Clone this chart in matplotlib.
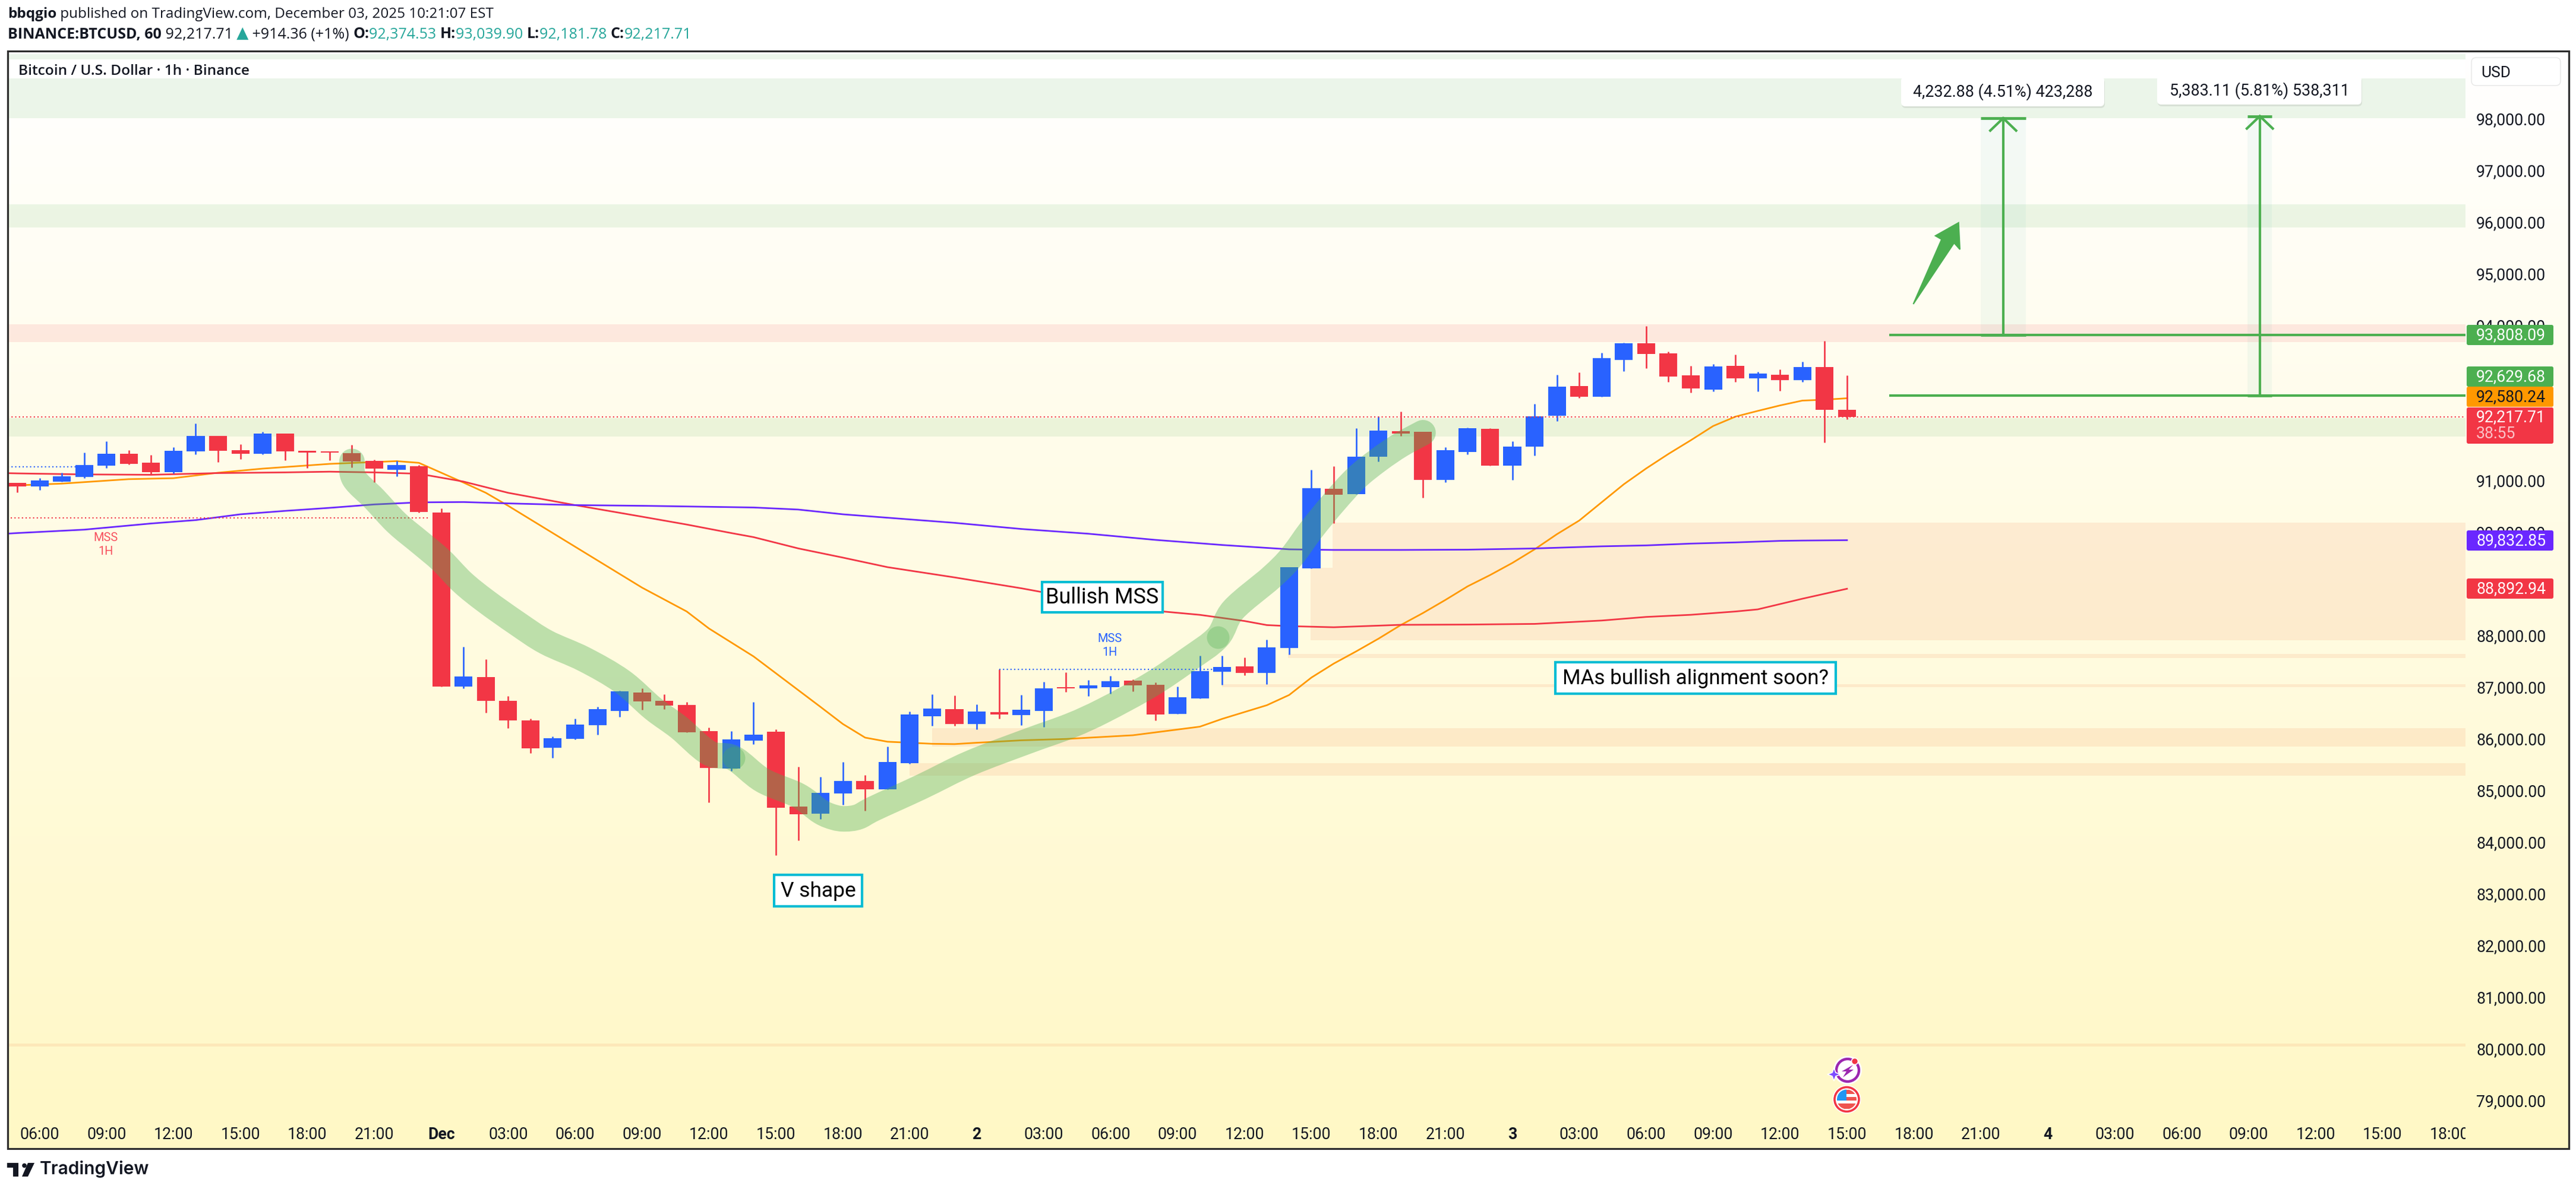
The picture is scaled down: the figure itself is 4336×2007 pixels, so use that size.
import numpy as np
import matplotlib
matplotlib.use("Agg")
import matplotlib.pyplot as plt
from matplotlib.patches import Rectangle, FancyBboxPatch, Polygon, Circle, PathPatch
from matplotlib.path import Path
from matplotlib.transforms import Bbox

W, H = 4336, 2008
DPI = 100

opens = [90941,90875,90967,91060,91277,91508,91330,91152,91555,91851,91574,91508,91898,91561,91555,91515,91370,91192,91264,90367,
         87002,87180,86725,86342,85814,85986,86250,86527,86883,86725,86646,86138,85418,85953,86124,84680,84541,84930,85174,85009,
         85517,86421,86560,86276,86507,86448,86527,86989,86962,86989,87114,87035,86468,86771,87286,87391,87266,87750,89286,90828,
         90723,91450,91943,91931,90998,91538,91989,91274,91643,92242,92816,92611,93321,93643,93450,93021,92746,93209,92969,93033,
         92934,93186,92359]
highs = [90941,91033,91139,91528,91746,91574,91482,91627,92096,91851,91687,91931,91898,91561,91555,91680,91390,91370,91291,90446,
         87767,87530,86817,86382,86032,86382,86606,86923,86962,86850,86705,86210,86138,86698,86171,85445,85254,85537,85287,85841,
         86514,86850,86824,86652,87332,86837,87094,87272,87127,87206,87140,87081,87002,87602,87596,87563,87906,89310,91198,91262,
         92001,92230,92324,91931,91632,92013,92001,91749,92470,93033,93080,93461,93655,93977,93485,93209,93244,93426,93092,93139,
         93285,93690,93021]
lows = [90756,90802,90967,91033,91231,91297,91106,91126,91495,91343,91403,91495,91376,91231,91376,91238,90954,91073,90367,87002,
        86962,86494,86197,85709,85623,85979,86065,86415,86553,86560,86111,84759,85366,85887,83736,84020,84436,84713,84594,85009,
        85504,86243,86243,86171,86382,86250,86217,86896,86817,86863,86910,86342,86468,86771,87035,87220,87048,87621,89286,90160,
        90723,91356,91849,90658,90957,91497,91274,90998,91473,92136,92588,92611,93104,93162,92898,92687,92711,92898,92711,92722,
        92898,91726,92171]
closes = [90875,90987,91066,91284,91508,91310,91152,91561,91851,91561,91508,91898,91555,91528,91528,91357,91218,91284,90380,87002,
          87193,86725,86342,85801,85999,86263,86560,86910,86712,86632,86111,85425,85979,86065,84653,84528,84944,85174,85009,85537,
          86461,86573,86276,86514,86461,86553,86962,86962,87022,87101,87022,86461,86791,87299,87378,87266,87761,89310,90840,90711,
          91450,91954,91896,90998,91573,92001,91274,91643,92230,92805,92611,93356,93643,93438,92998,92769,93197,92969,93057,92934,
          93186,92359,92218]

ma_orange_x = [-0.43,0,2,5,7,9,11,14,17,18,20,21,22,25,28,30,31,33,36,37,38,39,41,42,43,45,47,50,53,54,55,56,57,58,59,60,61,62,63,64,65,66,67,68,69,70,71,72,73,74,75,76,77,78,79,80,81,82]
ma_orange_y = [90885,90895,90928,91014,91033,91139,91218,91310,91363,91330,90948,90750,90499,89707,88915,88454,88124,87583,86606,86276,86012,85933,85893,85887,85913,85960,85986,86058,86224,86375,86507,86639,86837,87175,87445,87680,87926,88190,88424,88676,88940,89157,89392,89656,89949,90213,90565,90916,91221,91503,91767,92042,92224,92335,92441,92535,92552,92580]
ma_red_x = [-0.43,0,3,6,9,12,14,16,18,20,22,25,28,30,32,33,35,37,39,42,45,49,51,53,55,56,57,59,62,65,68,71,73,75,77,78,80,82]
ma_red_y = [91130,91126,91106,91099,91132,91145,91159,91145,91119,90967,90750,90512,90288,90136,89971,89892,89674,89496,89311,89113,88902,88585,88467,88388,88269,88190,88170,88148,88195,88200,88213,88278,88348,88389,88453,88494,88700,88893]
ma_purple_x = [-0.43,0,3,6,8,10,12,14,16,18,20,22,25,28,33,35,37,39,42,45,48,51,54,57,59,62,65,68,71,73,75,77,79,80,82]
ma_purple_y = [89960,89971,90037,90156,90222,90334,90400,90459,90525,90565,90571,90545,90512,90499,90466,90426,90334,90268,90169,90050,89958,89839,89740,89656,89644,89644,89650,89673,89714,89732,89767,89790,89820,89826,89833]

swoosh_x = [15,15.1,16,17,18.1,19,19.96,21,22.4,23.7,25.4,27.1,28.5,29.65,31,32.1,33.4,35,36,36.6,37.1,37.7,38.4,40.5,42.7,45.3,47.2,48.7,50.8,52.5,53.8,54.5,56.2,57.1,58,59,60,61,62,63]
swoosh_y = [91357,91027,90631,90169,89773,89443,89015,88652,88223,87860,87530,87101,86573,86210,85715,85616,85187,84891,84580,84470,84440,84480,84640,85056,85517,85946,86243,86540,87035,87530,87958,88486,89113,89507,90037,90564,91034,91385,91679,91913]
swoosh_marks_x = [32.1, 53.8]
swoosh_marks_y = [85616, 87958]

green_tops = [99240, 96333, 92190]
green_bottoms = [98000, 95885, 91840]
pink_tops = [94012]
pink_bottoms = [93672]
orange_tops = [90172, 89304, 87633, 87048, 86190, 85517, 80090]
orange_bottoms = [89304, 87896, 87556, 86989, 85834, 85273, 80040]
orange_starts = [58.95, 57.95, 56.95, 54, 41, 40, -1]

level_values = [93808.09, 92629.68]
target_tops = [98000, 98040]
target_bottoms = [93808.09, 92629.68]
target_x = [89, 100.5]
target_half = [1.02, 0.55]
current_price = 92217.71

ytick_values = [v for v in range(79000, 99000, 1000) if v not in (92000, 93000)]
ytick_labels = [f"{v:,}.00" for v in ytick_values]
xtick_values = list(range(1, 110, 3))
xtick_labels = ["06:00","09:00","12:00","15:00","18:00","21:00","Dec","03:00","06:00","09:00","12:00","15:00","18:00","21:00",
                "2","03:00","06:00","09:00","12:00","15:00","18:00","21:00","3","03:00","06:00","09:00","12:00","15:00","18:00","21:00",
                "4","03:00","06:00","09:00","12:00","15:00","18:00"]

BLUE, RED, GREEN, ORANGE, PURPLE = "#2962FF", "#F23645", "#4CAF50", "#FF9800", "#6A27FF"
INK = "#131722"

fig = plt.figure(figsize=(W / DPI, H / DPI), dpi=DPI, facecolor="white")
px = 72 / DPI


def frac(x0, y0, x1, y1):
    return [x0 / W, 1 - y1 / H, (x1 - x0) / W, (y1 - y0) / H]


# background
bg = fig.add_axes(frac(13, 87, 4324, 1935), zorder=0)
grad = np.linspace(0, 1, 256)[:, None, None] * (np.array([255, 248, 197]) / 255 - 1) + 1
bg.imshow(grad, aspect="auto", extent=(0, 1, 0, 1))
bg.axis("off")

# main chart
L, R, T, B = 13, 4150, 87, 1880
STEP, X0 = 37.56, 29
PPX = 0.087
ax = fig.add_axes(frac(L, T, R, B), zorder=1)
ax.patch.set_alpha(0)
ax.set_xlim((L - X0) / STEP, (R - X0) / STEP)
ax.set_ylim(98000 - (B - 200) / PPX, 98000 + (200 - T) / PPX)
for s in ax.spines.values():
    s.set_visible(False)

xmin, xmax = ax.get_xlim()
for t, b in zip(green_tops, green_bottoms):
    ax.axhspan(b, t, color=GREEN, alpha=0.11, lw=0, zorder=1)
for t, b in zip(pink_tops, pink_bottoms):
    ax.axhspan(b, t, color=RED, alpha=0.10, lw=0, zorder=1)
for t, b, s in zip(orange_tops, orange_bottoms, orange_starts):
    ax.add_patch(Rectangle((s, b), xmax - s, t - b, color="#F0703A", alpha=0.115, lw=0, zorder=1))

ax.plot(ma_orange_x, ma_orange_y, color=ORANGE, lw=2.0, zorder=2)
ax.plot(ma_red_x, ma_red_y, color=RED, lw=2.0, zorder=2)
ax.plot(ma_purple_x, ma_purple_y, color=PURPLE, lw=2.0, zorder=2)

idx = np.arange(len(opens))
o, h, l, c = map(np.array, (opens, highs, lows, closes))
cols = [BLUE if cc >= oo else RED for oo, cc in zip(o, c)]
ax.vlines(idx, l, h, colors=cols, lw=1.9, zorder=3)
ax.bar(idx, np.abs(c - o), bottom=np.minimum(o, c), width=0.8, color=cols, lw=0, zorder=3)

# brush stroke: the read points joined by Catmull-Rom Bezier segments
sp = np.column_stack([swoosh_x, swoosh_y]).astype(float)
verts, codes = [tuple(sp[0])], [Path.MOVETO]
for i in range(len(sp) - 1):
    p0 = sp[max(i - 1, 0)]
    p1, p2 = sp[i], sp[i + 1]
    p3 = sp[min(i + 2, len(sp) - 1)]
    verts += [tuple(p1 + (p2 - p0) / 6), tuple(p2 - (p3 - p1) / 6), tuple(p2)]
    codes += [Path.CURVE4] * 3
ax.add_patch(PathPatch(Path(verts, codes), fc="none", ec=GREEN, alpha=0.37, lw=43 * px, capstyle="round", joinstyle="round", zorder=4))
ax.scatter(swoosh_marks_x, swoosh_marks_y, s=(38 * px) ** 2, color=GREEN, alpha=0.3, lw=0, zorder=4)

dots = (0, (1, 2))
ax.axhline(current_price, color=RED, lw=1.5, ls=dots, zorder=5)
ax.plot([-0.43, 3], [91250, 91250], color=BLUE, lw=1.5, ls=dots, zorder=2)
ax.plot([-0.3, 18.5], [90268, 90268], color=RED, lw=1.5, ls=dots, zorder=2)
ax.plot([44, 54], [87332, 87332], color=BLUE, lw=1.5, ls=dots, zorder=5)
ax.text(3.97, 89759, "MSS\n1H", color="#F7525F", fontsize=14.4, family="Roboto", ha="center", va="center", linespacing=1.3, zorder=5)
ax.text(48.96, 87805, "MSS\n1H", color=BLUE, fontsize=14.4, family="Roboto", ha="center", va="center", linespacing=1.3, zorder=5)

# levels and targets
for v in level_values:
    ax.plot([83.9, xmax], [v, v], color=GREEN, lw=3, zorder=5, solid_capstyle="butt")
for xc, top, bot, hw in zip(target_x, target_tops, target_bottoms, target_half):
    ax.add_patch(Rectangle((xc - hw, bot), 2 * hw, top - bot, color="#26A69A", alpha=0.05, lw=0, zorder=4))
    ax.plot([xc, xc], [bot, top], color=GREEN, lw=3, zorder=5)
    ax.plot([xc - hw, xc + hw], [top, top], color=GREEN, lw=3.4, zorder=5, solid_capstyle="butt")
    ax.plot([xc - hw, xc + hw], [bot, bot], color=GREEN, lw=3.4, zorder=5, solid_capstyle="butt")
    ax.plot([xc - 0.58, xc, xc + 0.58], [top - 240, top, top - 240], color=GREEN, lw=3, zorder=5, solid_joinstyle="miter")
ax.add_patch(Polygon([(84.97, 94402), (86.24, 95655), (85.96, 95724), (87.0, 95977), (87.06, 95460), (86.8, 95586)],
                     closed=True, color=GREEN, lw=1.5, zorder=5))

ax.yaxis.tick_right()
ax.set_yticks(ytick_values, ytick_labels, fontsize=19.2, family="Roboto", color=INK)
ax.set_xticks(xtick_values, xtick_labels, fontsize=19.2, family="Roboto", color=INK)
ax.tick_params(axis="both", length=0)
ax.tick_params(axis="y", pad=13)
ax.tick_params(axis="x", pad=12)
clip = Bbox.from_extents(0, 0, R, H)
for lab in ax.get_xticklabels():
    lab.set_clip_box(clip)
    lab.set_clip_on(True)
    if lab.get_text() in ("Dec", "2", "3", "4"):
        lab.set_fontweight("bold")

# pixel overlay for page furniture
ov = fig.add_axes([0, 0, 1, 1], zorder=5)
ov.set_xlim(0, W)
ov.set_ylim(H, 0)
ov.axis("off")

ov.add_patch(Rectangle((L, 101), R - L, 32, fc="white", ec="none", zorder=1))
ov.add_patch(Rectangle((L, 87), 4324 - L, 1935 - 87, fc="none", ec="#2E2E2E", lw=3.2 * px, zorder=9))
ov.text(31, 120, "Bitcoin / U.S. Dollar · 1h · Binance", fontsize=17.6, family="Open Sans", weight="semibold", color=INK, va="center", zorder=3)

renderer = fig.canvas.get_renderer()


def run(x, y, parts, size):
    for txt, col, wt in parts:
        t = ov.text(x, y, txt, fontsize=size, family="Open Sans", weight=wt, color=col, va="center", ha="left", zorder=3)
        x += t.get_window_extent(renderer).width
    return x


run(13, 24, [("bbqgio", INK, "bold"), (" published on TradingView.com, December 03, 2025 10:21:07 EST", INK, "normal")], 17.5)
TEAL = "#26A69A"
xx = run(13, 58, [("BINANCE:BTCUSD, 60", INK, "bold"), (" 92,217.71 ", INK, "normal")], 18)
ov.add_patch(Polygon([(xx, 68), (xx + 20, 68), (xx + 10, 47)], closed=True, color=TEAL, lw=0))
run(xx + 20, 58, [(" +914.36 (+1%) ", INK, "normal"), ("O:", INK, "bold"), ("92,374.53 ", TEAL, "normal"), ("H:", INK, "bold"), ("93,039.90 ", TEAL, "normal"),
                  ("L:", INK, "bold"), ("92,181.78 ", TEAL, "normal"), ("C:", INK, "bold"), ("92,217.71", TEAL, "normal")], 18)

# price scale furniture
ov.add_patch(FancyBboxPatch((4160, 98), 150, 47, boxstyle="round,pad=0,rounding_size=8", fc="white", ec="#E6E6E6", lw=1))
ov.text(4176, 123, "USD", fontsize=19, family="Roboto", color=INK, va="center")

tag_y = [565, 635, 669, 911, 992]
tag_txt = ["93,808.09", "92,629.68", "92,580.24", "89,832.85", "88,892.94"]
tag_col = [GREEN, GREEN, ORANGE, PURPLE, RED]
tag_fg = ["white", "white", INK, "white", "white"]
for y, s, cl, fg in zip(tag_y, tag_txt, tag_col, tag_fg):
    ov.add_patch(FancyBboxPatch((4152, y - 17), 146, 34, boxstyle="round,pad=0,rounding_size=3", fc=cl, ec="none", zorder=3))
    ov.text(4168, y, s, fontsize=19.2, family="Roboto", color=fg, va="center", zorder=4)
ov.add_patch(FancyBboxPatch((4152, 687), 146, 61, boxstyle="round,pad=0,rounding_size=3", fc=RED, ec="none", zorder=5))
ov.text(4168, 703, "92,217.71", fontsize=19.2, family="Roboto", color="white", va="center", zorder=6)
ov.text(4168, 731, "38:55", fontsize=19.2, family="Roboto", color="#FBC2C7", va="center", zorder=6)

# annotation boxes
boxes = [(1754, 981, 1957, 1032, "Bullish MSS", 26), (1303, 1474, 1451, 1527, "V shape", 25.5), (2618, 1116, 3090, 1169, "MAs bullish alignment soon?", 25.2)]
for x0, y0, x1, y1, s, fs in boxes:
    ov.add_patch(Rectangle((x0, y0), x1 - x0, y1 - y0, fc="white", ec="#00BCD4", lw=3, zorder=3))
    ov.text((x0 + x1) / 2, (y0 + y1) / 2, s, fontsize=fs, family="Roboto", color="black", ha="center", va="center", zorder=4)

for x0, y0, x1, y1, s in [(3200, 130, 3542, 180, "4,232.88 (4.51%) 423,288"), (3631, 128, 3975, 177, "5,383.11 (5.81%) 538,311")]:
    ov.add_patch(FancyBboxPatch((x0 + 1, y0 + 3), x1 - x0, y1 - y0, boxstyle="round,pad=0,rounding_size=7", fc="#000000", alpha=0.08, ec="none", zorder=3))
    ov.add_patch(FancyBboxPatch((x0, y0), x1 - x0, y1 - y0, boxstyle="round,pad=0,rounding_size=7", fc="white", ec="none", zorder=3))
    ov.text((x0 + x1) / 2, (y0 + y1) / 2, s, fontsize=19.4, family="Roboto", color=INK, ha="center", va="center", zorder=4)

# event icons
ov.add_patch(Circle((3110, 1803), 24, fc="white", ec="none", zorder=3))
ov.add_patch(Circle((3110, 1803), 19, fc="none", ec="#9C27B0", lw=3.2, zorder=4))
ov.add_patch(Circle((3122, 1788), 5.5, fc=RED, ec="white", lw=1.2, zorder=5))
ov.add_patch(Polygon([(3087, 1799), (3090, 1807), (3098, 1810), (3090, 1813), (3087, 1821), (3084, 1813), (3076, 1810), (3084, 1807)], closed=True, fc="#7C4DFF", ec="white", lw=1.2, zorder=5))
ov.add_patch(Polygon([(3119, 1794), (3100, 1805), (3108, 1805), (3102, 1815), (3120, 1802), (3112, 1802)], closed=True, fc="#9C27B0", ec="none", zorder=5))
ov.add_patch(Circle((3108.5, 1852), 24, fc="white", ec="none", zorder=3))
flag_clip = Circle((3108.5, 1852), 16.5, transform=ov.transData)
for yy, hh, cc, xs, ww in [(1836, 7, "#EF5350", 3108, 18), (1848, 6, "#EF5350", 3108, 18), (1859, 9, "#EF5350", 3090, 36), (1835, 19, "#2196F3", 3090, 18)]:
    r = Rectangle((xs, yy), ww, hh, fc=cc, ec="none", zorder=5)
    ov.add_patch(r)
    r.set_clip_path(flag_clip)
ov.add_patch(Circle((3108.5, 1852), 20.5, fc="none", ec=RED, lw=2.6, zorder=6))

# footer logo
ov.add_patch(Polygon([(12, 1959), (31, 1959), (31, 1982), (22, 1982), (22, 1967), (12, 1967)], closed=True, fc=INK, ec="none"))
ov.add_patch(Circle((41, 1963.5), 3.8, fc=INK, ec="none"))
ov.add_patch(Polygon([(47, 1959), (58, 1959), (47, 1982), (37, 1982)], closed=True, fc=INK, ec="none"))
ov.text(67, 1969, "TradingView", fontsize=21.5, family="Inter", weight="semibold", color=INK, va="center", ha="left")

fig.savefig("out.png", dpi=DPI, facecolor="white")
